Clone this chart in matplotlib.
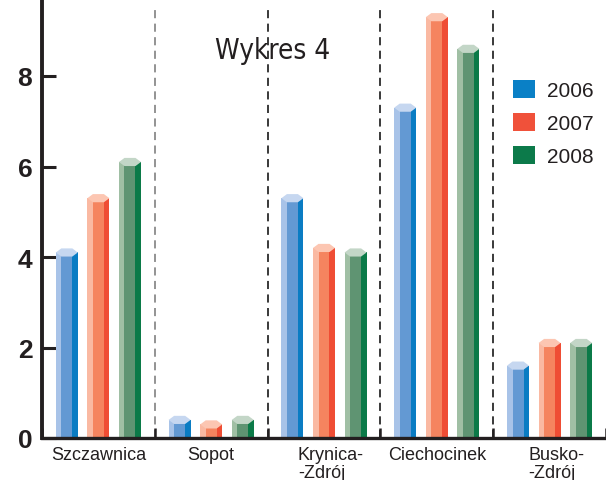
import matplotlib
matplotlib.use("Agg")
import matplotlib.pyplot as plt
from matplotlib.patches import Polygon, Patch
from matplotlib.transforms import blended_transform_factory

# spa towns and visitor numbers per year
towns = ["Szczawnica", "Sopot", "Krynica-\n-Zdrój", "Ciechocinek", "Busko-\n-Zdrój"]
years = ["2006", "2007", "2008"]
v2006 = [4.1, 0.4, 5.3, 7.3, 1.6]
v2007 = [5.3, 0.3, 4.2, 9.3, 2.1]
v2008 = [6.1, 0.4, 4.1, 8.6, 2.1]

# (light side, front, dark side, top cap, legend)
blue = ("#a8c3e8", "#6399d3", "#0a7cc3", "#c6d7f0", "#0a80c6")
red = ("#fab9a2", "#f5845f", "#ef4d34", "#fcc6b2", "#f0513a")
green = ("#a0bfa4", "#5f9472", "#0b7a48", "#c3d6c7", "#0c7a4a")

ink = "#231f20"
plain = ["Liberation Sans", "DejaVu Sans"]


def prism(ax, x, v, w, cols, cap=0.18):
    "hexagonal column: three front stripes plus a lighter top"
    light, mid, dark, top = cols[:4]
    x0 = x - w / 2
    ax.bar(x, v, w, color=mid, linewidth=0, zorder=2)
    ax.bar(x0 + w * 0.125, v, w * 0.25, color=light, linewidth=0, zorder=3)
    ax.bar(x0 + w * 0.875, v, w * 0.25, color=dark, linewidth=0, zorder=3)
    h = cap / 2
    hexa = [(x0, v), (x0 + w * 0.25, v + h), (x0 + w * 0.75, v + h),
            (x0 + w, v), (x0 + w * 0.75, v - h), (x0 + w * 0.25, v - h)]
    ax.add_patch(Polygon(hexa, closed=True, facecolor=top, edgecolor="none", zorder=4))


fig = plt.figure(figsize=(6.06, 4.81), dpi=100)
ax = fig.add_axes([42 / 606, 42 / 481, 564 / 606, 439 / 481])

ymax = 439 / 45.25
ax.set_xlim(0, 5 * 564 / 565)
ax.set_ylim(0, ymax)

w = 0.195
offs = [-0.28, 0.0, 0.28]
for vals, cols, d in zip([v2006, v2007, v2008], [blue, red, green], offs):
    for i, v in enumerate(vals):
        prism(ax, i + 0.5 + d, v, w, cols)

# dashed separators between towns
for i in range(1, 5):
    ax.vlines(i, 0, 9.48, colors="#8a8a8a" if i == 1 else "#2a2a2a",
              linestyles=(0, (4.5, 3)), linewidth=1.3, zorder=1)

for s in ["top", "right"]:
    ax.spines[s].set_visible(False)
ax.spines["left"].set_linewidth(2.8)
ax.spines["bottom"].set_linewidth(2.4)
ax.spines["left"].set_color(ink)
ax.spines["bottom"].set_color(ink)
ax.spines["left"].set_zorder(6)
ax.spines["bottom"].set_zorder(6)

ax.set_yticks([0, 2, 4, 6, 8])
ax.set_yticklabels(["0", "2", "4", "6", "8"], fontsize=19, fontweight="bold",
                   family=plain, color=ink)
ax.tick_params(axis="y", direction="in", length=10, width=2.2, color=ink, pad=7)

ax.set_xticks(range(0, 6))
ax.set_xticklabels([])
ax.tick_params(axis="x", direction="in", length=7, width=1.8, color=ink)

tr = blended_transform_factory(ax.transData, ax.transAxes)
for i, t in enumerate(towns):
    shift = 0.06 if "\n" in t else 0.0
    ax.text(i + 0.5 + shift, -0.019, t, transform=tr, ha="center", va="top",
            multialignment="left", fontsize=13, family=plain, color=ink,
            linespacing=1.05)

fig.text(273 / 606, 1 - 51 / 481, "Wykres 4", ha="center", va="center",
         fontsize=20, family="DejaVu Sans", stretch="condensed", color=ink)

handles = [Patch(facecolor=c[4], edgecolor="none") for c in (blue, red, green)]
ax.legend(handles, years, loc="upper left", bbox_to_anchor=(513 / 606, 1 - 81 / 481),
          bbox_transform=fig.transFigure, frameon=False, borderpad=0, borderaxespad=0,
          handlelength=1.05, handleheight=0.95, handletextpad=0.6, labelspacing=0.62,
          prop={"family": plain, "size": 15}, labelcolor=ink)

fig.savefig("out.png", dpi=100)
